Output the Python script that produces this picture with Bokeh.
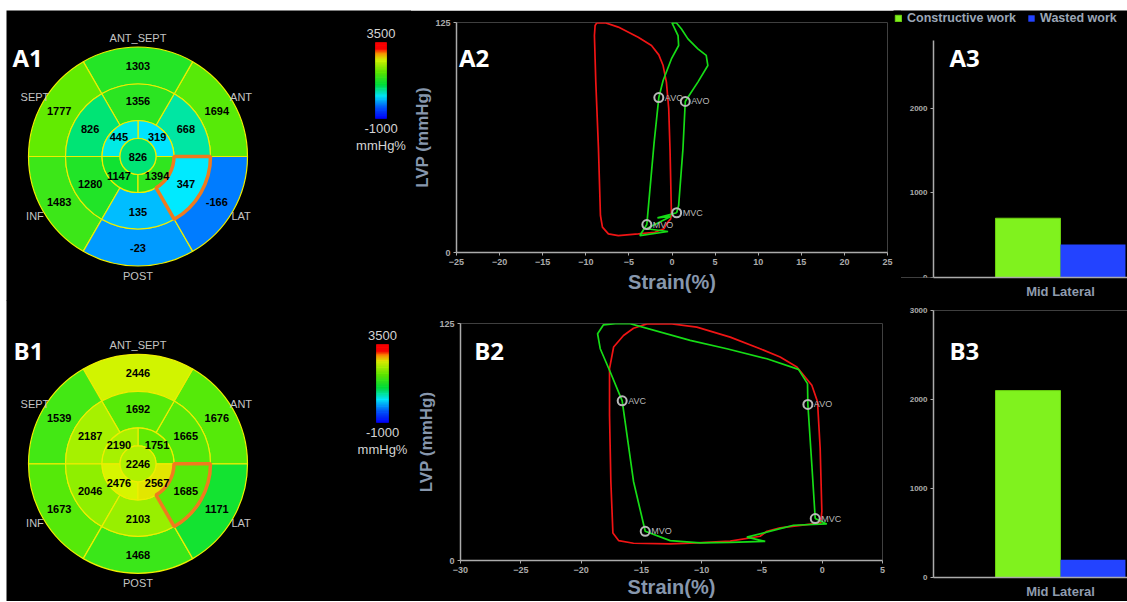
import numpy as np
from bokeh.plotting import figure
from bokeh.models import Range1d, FixedTicker, Legend, LegendItem
from bokeh.core.properties import value
from bokeh.embed import file_html
from bokeh.resources import INLINE

# ---------------- data ----------------
# Bull's-eye segment values (mmHg%); rings listed counter-clockwise starting at 3 o'clock
A1_basal = [1694, 1303, 1777, 1483, -23, -166]
A1_mid = [668, 1356, 826, 1280, 135, 347]
A1_apical = [319, 445, 1147, 1394]
A1_apex = [826]
B1_basal = [1676, 2446, 1539, 1673, 1468, 1171]
B1_mid = [1665, 1692, 2187, 2046, 2103, 1685]
B1_apical = [1751, 2190, 2476, 2567]
B1_apex = [2246]
wall_names = ["ANT", "ANT_SEPT", "SEPT", "INF", "POST", "LAT"]
scale_min, scale_max = -1000, 3500
scale_unit = "mmHg%"

# Pressure-strain loops (strain %, LVP mmHg)
A2_red_x = [-8.73, -7.76, -6.23, -3.92, -2.38, -1.53, -1.03, -0.65, -0.38, -0.23, -0.07, -0.15, -0.65,
            -0.92, -2.0, -3.92, -6.23, -7.38, -8.07, -8.3, -8.53, -8.84, -9.0, -8.92, -8.73]
A2_red_y = [124.8, 124.9, 122.5, 117.0, 112.5, 107.4, 101.6, 92.6, 78.1, 56.3, 21.9, 18.3, 15.6,
            12.9, 11.0, 10.1, 9.2, 10.1, 13.8, 20.1, 56.3, 92.6, 117.9, 123.4, 124.8]
A2_green_x = [0.54, 0.77, 1.27, 1.54, 1.85, 3.0, 4.16, 3.97, 3.0, 1.85, 1.08, 0.5, 0.0, 0.70, 0.77,
              -0.07, -1.03, -1.53, -2.07, -2.69, -2.92, -3.73, -0.46, -2.96, -0.15, -1.69, 0.54]
A2_green_y = [21.6, 25.5, 56.3, 82.1, 84.4, 92.6, 101.6, 107.1, 110.7, 116.1, 121.6, 124.9, 124.8, 117.9, 112.5,
              105.2, 93.5, 84.2, 60.0, 27.4, 15.2, 9.2, 11.4, 12.9, 19.6, 18.8, 21.6]
A2_event_x = [-1.53, 1.54, 0.54, -2.92]
A2_event_y = [84.2, 82.1, 21.6, 15.2]

B2_red_x = [-14.54, -12.61, -10.40, -7.63, -5.15, -3.49, -2.1, -0.86, -0.39, -0.17, -0.03, -0.12, -3.49,
            -4.59, -5.15, -7.63, -10.4, -12.61, -15.65, -16.89, -17.36, -17.53, -17.64, -17.64, -17.3,
            -16.48, -15.65, -14.54]
B2_red_y = [124.8, 124.9, 123.1, 117.8, 111.7, 107.3, 102.1, 92.4, 83.7, 59.2, 25.9, 19.8, 17.2,
            15.4, 12.8, 10.2, 9.3, 8.8, 9.1, 10.5, 14.5, 41.7, 76.7, 101.2, 112.6,
            118.7, 122.5, 124.8]
B2_green_x = [-0.58, -0.86, -1.19, -1.22, -1.97, -4.59, -7.91, -10.95, -15.92, -17.17, -18.14, -18.63,
              -18.41, -17.58, -16.59, -15.65, -14.68, -12.61, -10.12, -7.63, -4.73, -6.25, -3.49, -2.38,
              0.38, -0.58]
B2_green_y = [22.1, 50.4, 82.3, 93.3, 100.8, 106.4, 111.7, 116.1, 124.9, 124.9, 124.3, 119.6,
              111.7, 99.4, 84.2, 41.7, 15.4, 10.5, 9.3, 9.6, 10.1, 12.3, 16.8, 18.6,
              19.3, 22.1]
B2_event_x = [-16.59, -1.19, -0.58, -14.68]
B2_event_y = [84.2, 82.3, 22.1, 15.4]
event_names = ["AVC", "AVO", "MVC", "MVO"]

# Segmental work bars
bar_categories = ["Mid Lateral"]
A3_constructive = [700]
A3_wasted = [390]
B3_constructive = [2100]
B3_wasted = [200]
series_names = ["Constructive work", "Wasted work"]

# ---------------- styling helpers ----------------
BG = "black"
GREY = "#ababab"
AXLABEL = "#8797ad"
FONT = "Liberation Sans"

STOPS = [(0.00, (0, 0, 255)), (0.15, (0, 90, 255)), (0.30, (0, 235, 255)),
         (0.45, (0, 225, 60)), (0.62, (100, 235, 0)), (0.78, (220, 245, 0)),
         (0.86, (255, 150, 0)), (0.92, (255, 0, 0)), (1.00, (255, 0, 0))]


def wcolor(v):
    t = min(max((v - scale_min) / (scale_max - scale_min), 0.0), 1.0)
    for (t0, c0), (t1, c1) in zip(STOPS[:-1], STOPS[1:]):
        if t <= t1:
            f = (t - t0) / (t1 - t0) if t1 > t0 else 0
            c = [int(round(a + (b - a) * f)) for a, b in zip(c0, c1)]
            return "#%02x%02x%02x" % tuple(c)
    return "#ff0000"


def base_fig(left, top, w, h, xr, yr, **kw):
    p = figure(width=w, height=h, x_range=xr, y_range=yr, output_backend="svg",
               toolbar_location=None, background_fill_color=BG, border_fill_color=BG,
               outline_line_color=None, title=None,
               styles={"position": "absolute", "left": "%dpx" % left, "top": "%dpx" % top}, **kw)
    p.grid.visible = False
    return p


def style_axes(p):
    for ax in p.axis:
        ax.axis_line_color = GREY
        ax.axis_line_width = 1.5
        ax.major_tick_line_color = GREY
        ax.major_tick_out = 3
        ax.major_tick_in = 0
        ax.minor_tick_line_color = None
        ax.major_label_text_color = GREY
        ax.major_label_text_font_size = "9px"
        ax.major_label_text_font_style = "bold"
        ax.major_label_text_font = FONT
        ax.major_label_standoff = 3
        ax.axis_label_text_font_style = "bold"
        ax.axis_label_text_color = AXLABEL
        ax.axis_label_text_font = FONT


def tag(p, x, y, txt):
    p.text(x=[x], y=[y], text=[txt], text_font=value("Open Sans"), text_font_style="bold",
           text_font_size="24px", text_color="white", text_align="left", text_baseline="alphabetic")


# ---------------- bull's-eye ----------------
R = [18, 36, 72.5, 109.5]
CX = 137.5  # page x of bull's-eye centre


def bullseye(basal, mid, apical, apex, top, height, cy, cbar, label):
    # data units are pixels, origin at the bull's-eye centre
    p = base_fig(6, top, 405, height, Range1d(6 - CX, 411 - CX), Range1d(cy - (top + height), cy - top),
                 x_axis_location=None, y_axis_location=None, min_border=0)

    def xy(px, py):
        return px - CX, cy - py

    six = np.arange(6)
    four = np.arange(4)
    a6s, a6e = np.radians(six * 60.0), np.radians(six * 60.0 + 60)
    a4s, a4e = np.radians(four * 90.0), np.radians(four * 90.0 + 90)
    yel = "#eeee00"
    p.annular_wedge(x=0, y=0, inner_radius=R[2], outer_radius=R[3], start_angle=a6s, end_angle=a6e,
                    fill_color=[wcolor(v) for v in basal], line_color=yel, line_width=1.2)
    p.annular_wedge(x=0, y=0, inner_radius=R[1], outer_radius=R[2], start_angle=a6s, end_angle=a6e,
                    fill_color=[wcolor(v) for v in mid], line_color=yel, line_width=1.2)
    p.annular_wedge(x=0, y=0, inner_radius=R[0], outer_radius=R[1], start_angle=a4s, end_angle=a4e,
                    fill_color=[wcolor(v) for v in apical], line_color=yel, line_width=1.2)
    p.circle(x=[0], y=[0], radius=R[0], fill_color=[wcolor(v) for v in apex], line_color=yel, line_width=1.2)
    # highlighted mid lateral segment
    p.annular_wedge(x=0, y=0, inner_radius=R[1], outer_radius=R[2], start_angle=a6s[5], end_angle=a6e[5],
                    fill_alpha=0, line_color="#f07a1e", line_width=3.5)

    num = dict(text_font=value(FONT), text_font_style="bold", text_font_size="11px",
               text_color="black", text_align="center", text_baseline="middle")
    m6 = np.radians(six * 60.0 + 30)
    m4 = np.radians(four * 90.0 + 45)
    rb, rm, ra = (R[2] + R[3]) / 2, (R[1] + R[2]) / 2 + 1, (R[0] + R[1]) / 2
    p.text(x=rb * np.cos(m6), y=rb * np.sin(m6), text=[str(v) for v in basal], **num)
    p.text(x=rm * np.cos(m6), y=rm * np.sin(m6), text=[str(v) for v in mid], **num)
    p.text(x=ra * np.cos(m4), y=ra * np.sin(m4), text=[str(v) for v in apical], **num)
    p.text(x=[0], y=[0], text=[str(v) for v in apex], **num)
    rl = 119
    p.text(x=rl * np.cos(m6), y=rl * np.sin(m6), text=wall_names, text_font=value(FONT),
           text_font_size="11px", text_color="#c4c4c4", text_align="center", text_baseline="middle")

    # colour scale
    (cl, cb), (cr, ct) = xy(cbar[0], cbar[3]), xy(cbar[1], cbar[2])
    lev = np.linspace(scale_min, scale_max, 91)
    fr = (lev - scale_min) / (scale_max - scale_min)
    cols = [wcolor((lev[i] + lev[i + 1]) / 2) for i in range(len(lev) - 1)]
    p.quad(left=cl, right=cr, bottom=cb + fr[:-1] * (ct - cb), top=cb + fr[1:] * (ct - cb),
           fill_color=cols, line_color=cols, line_width=0.6)
    mx = (cl + cr) / 2
    lab = dict(text_font=value(FONT), text_font_size="13px", text_color="#d4d4d4",
               text_align="center", text_baseline="middle")
    p.text(x=[mx, mx, mx], y=[ct + 9.5, cb - 10, cb - 27],
           text=[str(scale_max), str(scale_min), scale_unit], **lab)
    tx, ty = xy(label[0], label[1])
    tag(p, tx, ty, label[2])
    return p


A1 = bullseye(A1_basal, A1_mid, A1_apical, A1_apex, 10, 291, 156.0, (375, 386, 42, 118), (12, 57, "A1"))
B1 = bullseye(B1_basal, B1_mid, B1_apical, B1_apex, 300, 301, 463.3, (376, 388, 344, 422), (13, 350, "B1"))


# ---------------- pressure-strain loops ----------------
def loop_fig(top, height, xr, borders, rx, ry, gx, gy, ex, ey, label, xls):
    l, r, t, b = borders
    p = base_fig(410, top, 491, height, Range1d(*xr), Range1d(0, 125),
                 min_border_left=l, min_border_right=r, min_border_top=t, min_border_bottom=b)
    p.xaxis.ticker = FixedTicker(ticks=list(range(int(xr[0]), int(xr[1]) + 1, 5)))
    p.yaxis.ticker = FixedTicker(ticks=[0, 125])
    style_axes(p)
    p.xaxis.axis_label = "Strain(%)"
    p.xaxis.axis_label_text_font_size = "20px"
    p.xaxis.axis_label_standoff = xls
    p.yaxis.axis_label = "LVP (mmHg)"
    p.yaxis.axis_label_text_font_size = "17px"
    p.yaxis.axis_label_standoff = 0
    p.line(rx, ry, line_color="#f01414", line_width=1.7)
    p.line(gx, gy, line_color="#16dc16", line_width=1.7)
    p.scatter(ex, ey, marker="circle", size=9, fill_color=None, line_color="#b8b8b8", line_width=2)
    p.text(ex, ey, text=event_names, x_offset=6, text_font=value(FONT), text_font_size="9px",
           text_color="#b8b8b8", text_align="left", text_baseline="middle")
    tag(p, label[0], label[1], label[2])
    return p


A2 = loop_fig(10, 291, (-25, 25), (44, 14, 12, 49), A2_red_x, A2_red_y, A2_green_x, A2_green_y,
              A2_event_x, A2_event_y, (-24.71, 105.8, "A2"), 3)
B2 = loop_fig(300, 301, (-30, 5), (50, 19, 23, 41), B2_red_x, B2_red_y, B2_green_x, B2_green_y,
              B2_event_x, B2_event_y, (-28.86, 110.8, "B2"), 0)


# ---------------- work bars ----------------
BAR_W = 0.35
X_AXIS_START, X_END = -0.684, 0.361
AXIS_PX = 933.0      # page x of the value axis
PX_PER_UNIT = 185.7


def bar_fig(left, top, height, ymax, yticks, borders, cons, wasted, label, legend):
    l, r, t, b = borders
    frame_h = height - t - b
    # frame may reach above the top of the value axis (room for the legend)
    y_end = ymax * frame_h / (frame_h - legend)
    x_start = X_AXIS_START - (AXIS_PX - (left + l)) / PX_PER_UNIT
    p = base_fig(left, top, 1127 - left, height, Range1d(x_start, X_END), Range1d(0, y_end),
                 min_border_left=l, min_border_right=r, min_border_top=t, min_border_bottom=b)
    xs = np.arange(len(bar_categories), dtype=float)
    g = p.vbar(x=xs - BAR_W / 2, top=cons, width=BAR_W, fill_color="#80f21e", line_color="#6cd010",
               line_width=1)
    bl = p.vbar(x=xs + BAR_W / 2, top=wasted, width=BAR_W, fill_color="#2343ff", line_color=None)
    style_axes(p)
    p.yaxis.major_label_text_font_size = "8px"
    p.yaxis.ticker = FixedTicker(ticks=yticks)
    p.yaxis.bounds = (0, ymax)
    p.xaxis.bounds = (X_AXIS_START, X_END)
    if x_start < X_AXIS_START - 1e-6:
        p.yaxis.fixed_location = X_AXIS_START
    p.xaxis.ticker = FixedTicker(ticks=list(xs))
    p.xaxis.major_label_overrides = {float(x): c for x, c in zip(xs, bar_categories)}
    p.xaxis.major_tick_out = 0
    p.xaxis.major_label_text_font_size = "13px"
    p.xaxis.major_label_text_color = "#8f9cae"
    p.xaxis.major_label_standoff = 6
    tag(p, label[0], label[1], label[2])
    if legend:
        lg = Legend(items=[LegendItem(label=series_names[0], renderers=[g]),
                           LegendItem(label=series_names[1], renderers=[bl])],
                    orientation="horizontal", location=(1, frame_h - 16), background_fill_alpha=0,
                    border_line_color=None, label_text_color="#9ba6b6", label_text_font=FONT,
                    label_text_font_size="12.5px", label_text_font_style="bold", glyph_width=8,
                    glyph_height=8, label_standoff=5, spacing=11, padding=0, margin=0, label_height=12)
        p.add_layout(lg, "center")
    return p


A3 = bar_fig(893, 10, 291, 2800, [0, 1000, 2000], (0, 0, 0, 23), A3_constructive, A3_wasted,
             (-0.598, 2596, "A3"), 30)
B3 = bar_fig(900, 300, 301, 3000, [0, 1000, 2000, 3000], (33, 0, 10, 24), B3_constructive, B3_wasted,
             (-0.598, 2554, "B3"), 0)

open("out.html", "w").write(file_html([A1, A2, A3, B1, B2, B3], INLINE))
